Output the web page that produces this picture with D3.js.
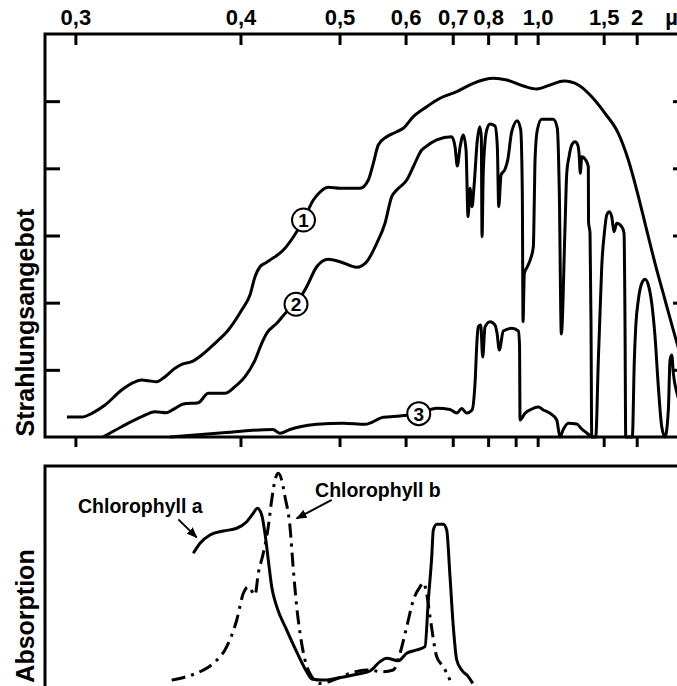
<!DOCTYPE html>
<html><head><meta charset="utf-8">
<script src="https://cdn.jsdelivr.net/npm/d3@7"></script>
<style>
body{margin:0;background:#fff}
svg{display:block}
text{font-family:"Liberation Sans",Arial,sans-serif;font-weight:bold;fill:#000}
</style></head><body>
<svg id="c" width="677" height="686"></svg>
<script>
// ---- data (wavelength in µm, relative values) ----
const tickValues = [0.3,0.4,0.5,0.6,0.7,0.8,0.9,1.0,1.5,2];
const tickLabels = ["0,3","0,4","0,5","0,6","0,7","0,8","","1,0","1,5","2"];
const yTicks = [1,2,3,4,5];

// 1: extraterrestrial radiation
const curve1 = [[0.2962,0.298],[0.3030,0.298],[0.3077,0.353],[0.3141,0.476],[0.3226,0.700],[0.3280,0.799],[0.3335,0.849],[0.3372,0.838],[0.3421,0.823],[0.3471,0.898],[0.3533,1.023],[0.3576,1.082],[0.3641,1.121],[0.3710,1.221],[0.3804,1.395],[0.3904,1.593],[0.4010,1.891],[0.4078,2.114],[0.4121,2.387],[0.4164,2.535],[0.4208,2.586],[0.4254,2.635],[0.4379,2.784],[0.4512,3.057],[0.4583,3.231],[0.4690,3.528],[0.4777,3.662],[0.4862,3.718],[0.5006,3.703],[0.5272,3.703],[0.5392,3.826],[0.5466,4.075],[0.5542,4.347],[0.5676,4.471],[0.5843,4.545],[0.5959,4.596],[0.6144,4.769],[0.6411,4.918],[0.6699,5.043],[0.7100,5.141],[0.7549,5.266],[0.8172,5.340],[0.8650,5.315],[0.9326,5.226],[0.9954,5.181],[1.0667,5.241],[1.1536,5.300],[1.2584,5.241],[1.3756,5.066],[1.5155,4.819],[1.6872,4.521],[1.8443,4.124],[2.0008,3.677],[2.1838,3.182],[2.4544,2.586],[2.8015,2.040],[3.3742,1.395],[4.152,0.849]];

// 2: at the ground
const curve2 = [[0.3131,0],[0.3226,0.153],[0.3335,0.302],[0.3411,0.377],[0.3481,0.362],[0.3533,0.427],[0.3586,0.491],[0.3686,0.511],[0.3756,0.651],[0.3879,0.651],[0.3956,0.749],[0.4037,0.898],[0.4121,1.146],[0.4179,1.395],[0.4224,1.544],[0.4316,1.693],[0.4412,1.865],[0.4505,1.976],[0.4617,2.238],[0.4728,2.535],[0.4862,2.646],[0.5006,2.610],[0.5227,2.527],[0.5368,2.610],[0.5518,2.884],[0.5648,3.182],[0.5758,3.578],[0.5843,3.677],[0.6021,3.826],[0.6144,4.024],[0.6309,4.273],[0.6375,4.313],[0.6625,4.422],[0.6975,4.471],[0.7057,4.322],[0.7115,4.035],[0.7185,4.313],[0.7272,4.496],[0.7345,4.273],[0.7400,3.280],[0.7455,3.703],[0.7512,3.429],[0.7569,3.726],[0.7666,4.422],[0.7738,4.620],[0.7786,4.471],[0.7808,2.982],[0.7848,3.975],[0.7955,4.571],[0.8062,4.660],[0.8230,4.630],[0.8309,4.322],[0.8358,3.429],[0.8440,3.901],[0.8586,3.986],[0.8688,4.124],[0.8843,4.545],[0.9070,4.709],[0.9213,4.571],[0.9282,3.628],[0.9313,1.717],[0.9370,2.437],[0.9505,2.535],[0.9663,2.660],[0.9787,2.833],[0.9835,3.528],[0.9870,4.124],[0.9984,4.571],[1.0210,4.730],[1.0860,4.730],[1.1103,4.596],[1.1229,3.628],[1.1358,1.534],[1.1604,3.131],[1.1721,3.926],[1.1883,4.173],[1.2078,4.347],[1.2326,4.396],[1.2537,4.347],[1.2641,4.224],[1.2746,3.926],[1.2862,4.173],[1.3205,4.124],[1.3438,4.024],[1.3456,3.201],[1.3595,3.033],[1.3689,1.642],[1.3756,0],[1.4148,0],[1.4416,1.146],[1.4596,1.842],[1.4782,2.535],[1.5074,3.033],[1.5354,3.305],[1.5670,3.354],[1.5973,3.280],[1.6275,3.057],[1.6644,3.182],[1.7374,3.131],[1.7732,3.033],[1.7892,1.642],[1.8006,0],[1.9155,0],[1.9533,1.146],[1.9807,1.642],[2.0335,2.040],[2.1071,2.288],[2.1837,2.348],[2.2662,2.263],[2.3579,1.991],[2.4544,1.493],[2.5591,0.749],[2.6767,0.153],[2.8015,0],[2.9388,0.402],[3.0148,1.146],[3.0948,1.221],[3.1742,0.948],[3.3742,0.651],[4.152,0.328]];

// 3: under vegetation
const curve3 = [[0.3502,0],[0.3841,0.060],[0.4281,0.112],[0.4347,0.055],[0.4444,0.112],[0.4547,0.153],[0.4728,0.189],[0.5048,0.204],[0.5344,0.189],[0.5621,0.293],[0.5901,0.313],[0.6249,0.347],[0.6625,0.427],[0.6933,0.409],[0.7100,0.357],[0.7229,0.424],[0.7364,0.357],[0.7512,0.402],[0.7598,0.799],[0.7657,1.444],[0.7696,1.642],[0.7768,1.667],[0.7829,1.191],[0.7901,1.638],[0.8062,1.717],[0.8230,1.667],[0.8298,1.548],[0.8379,1.295],[0.8523,1.578],[0.8843,1.618],[0.9112,1.578],[0.9162,1.370],[0.9184,0.253],[0.9401,0.353],[0.9787,0.427],[1.0035,0.447],[1.0295,0.402],[1.0667,0.353],[1.1066,0.253],[1.1274,0],[1.1470,0.104],[1.1833,0.204],[1.2458,0.194],[1.2863,0.119],[1.3294,0.060],[1.3756,0]];

// curve number markers (wavelength, value)
const curveMarks = [["1",0.4583,3.231],["2",0.4505,1.976],["3",0.6249,0.347]];

// absorption spectra (relative)
const chlA = [[0.3652,0.627],[0.3698,0.670],[0.3768,0.705],[0.3866,0.722],[0.3970,0.734],[0.4051,0.762],[0.4106,0.798],[0.4141,0.819],[0.4179,0.791],[0.4208,0.712],[0.4238,0.598],[0.4269,0.484],[0.4316,0.399],[0.4412,0.299],[0.4512,0.206],[0.4617,0.121],[0.4672,0.090],[0.4803,0.085],[0.4965,0.093],[0.5227,0.110],[0.5417,0.124],[0.5569,0.164],[0.5676,0.178],[0.5871,0.168],[0.6021,0.200],[0.6210,0.214],[0.6375,0.228],[0.6444,0.427],[0.6516,0.612],[0.6550,0.726],[0.6625,0.751],[0.6775,0.751],[0.6854,0.726],[0.6933,0.527],[0.7014,0.313],[0.7100,0.171],[0.7229,0.128],[0.7408,0.100],[0.7532,0.071]];
const chlB = [[0.3512,0.085],[0.3608,0.100],[0.3698,0.121],[0.3792,0.157],[0.3892,0.228],[0.3970,0.342],[0.4023,0.456],[0.4064,0.484],[0.4121,0.449],[0.4149,0.541],[0.4193,0.627],[0.4238,0.741],[0.4269,0.855],[0.4300,0.940],[0.4331,0.969],[0.4363,0.940],[0.4395,0.869],[0.4444,0.741],[0.4478,0.556],[0.4512,0.399],[0.4547,0.285],[0.4599,0.171],[0.4672,0.100],[0.4765,0.071],[0.4923,0.085],[0.5136,0.114],[0.5368,0.128],[0.5621,0.121],[0.5785,0.128],[0.5901,0.200],[0.6021,0.313],[0.6144,0.427],[0.6275,0.484],[0.6341,0.501],[0.6396,0.470],[0.6480,0.356],[0.6625,0.185],[0.6775,0.142],[0.6933,0.085]];

// annotations: [text, wavelength, value] and arrows [from λ, from A, to λ, to A]
const chlLabels = [["Chlorophyll a",0.3012,0.800],["Chlorophyll b",0.4709,0.868]];
const chlArrows = [[0.3554,0.772,0.3675,0.695],[0.4903,0.855,0.4512,0.776]];

// ---- layout ----
const svg = d3.select("#c");
const L=45, R=688, T1=34, B1=437, T2=466, B2=700;
const xu = d3.scaleLinear().domain([1/0.3, 1/2]).range([75.4, 636.7]); // reciprocal wavelength
const x = l => xu(1/l);
const y = d3.scaleLinear().domain([0,6]).range([B1,T1]);
const ya = d3.scaleLinear().domain([0,1]).range([B2,T2]);

const defs = svg.append("defs");
defs.append("clipPath").attr("id","clipTop").append("rect")
  .attr("x",L).attr("y",T1-5).attr("width",R-L).attr("height",B1-T1+8);
defs.append("marker").attr("id","arr").attr("markerUnits","userSpaceOnUse")
  .attr("viewBox","0 0 10 8").attr("refX",9).attr("refY",4)
  .attr("markerWidth",11).attr("markerHeight",9).attr("orient","auto")
  .append("path").attr("d","M0,0 L10,4 L0,8 Z").attr("fill","#000");

// top panel curves
const line = d3.line().x(d=>x(d[0])).y(d=>y(d[1])).curve(d3.curveMonotoneX);
const gTop = svg.append("g").attr("clip-path","url(#clipTop)");
[curve1,curve2,curve3].forEach(c=>{
  gTop.append("path").attr("d",line(c)).attr("fill","none")
    .attr("stroke","#000").attr("stroke-width",3).attr("stroke-linejoin","round");
});

// frames
svg.append("rect").attr("x",L).attr("y",T1).attr("width",R-L).attr("height",B1-T1)
  .attr("fill","none").attr("stroke","#000").attr("stroke-width",3);
svg.append("rect").attr("x",L).attr("y",T2).attr("width",R-L).attr("height",B2-T2)
  .attr("fill","none").attr("stroke","#000").attr("stroke-width",3);

function styleAxis(g){
  g.select(".domain").remove();
  g.selectAll(".tick line").attr("stroke","#000").attr("stroke-width",3);
  g.selectAll(".tick text").attr("font-size",22).attr("fill","#000")
    .style("font-family",'"Liberation Sans",Arial,sans-serif').style("font-weight","bold");
}
const uTicks = tickValues.map(v=>1/v);
svg.append("g").attr("transform",`translate(0,${T1})`)
  .call(d3.axisTop(xu).tickValues(uTicks).tickFormat((d,i)=>tickLabels[i])
    .tickSizeInner(-11).tickSizeOuter(0).tickPadding(9)).call(styleAxis);
svg.append("g").attr("transform",`translate(0,${B1})`)
  .call(d3.axisBottom(xu).tickValues(uTicks).tickFormat("")
    .tickSizeInner(10).tickSizeOuter(0)).call(styleAxis);
svg.append("g").attr("transform",`translate(${L},0)`)
  .call(d3.axisLeft(y).tickValues(yTicks).tickFormat("").tickSizeInner(-15).tickSizeOuter(0)).call(styleAxis);
svg.append("g").attr("transform",`translate(${R},0)`)
  .call(d3.axisRight(y).tickValues(yTicks).tickFormat("").tickSizeInner(-15).tickSizeOuter(0)).call(styleAxis);

// unit label
svg.append("text").attr("x",x(3.0)+2).attr("y",T1-9).attr("text-anchor","middle")
  .attr("font-size",22).text("µ");

// curve number circles
const cm = svg.append("g");
curveMarks.forEach(([n,l,v])=>{
  cm.append("circle").attr("cx",x(l)).attr("cy",y(v)).attr("r",11.5)
    .attr("fill","#fff").attr("stroke","#000").attr("stroke-width",2);
  cm.append("text").attr("x",x(l)).attr("y",y(v)).attr("dy","0.36em")
    .attr("text-anchor","middle").attr("font-size",19).text(n);
});

// axis titles
svg.append("text").attr("transform",`translate(33.5,${(T1+B1)/2+87}) rotate(-90)`)
  .attr("text-anchor","middle").attr("font-size",25).text("Strahlungsangebot");
svg.append("text").attr("transform",`translate(33.5,616) rotate(-90)`)
  .attr("text-anchor","middle").attr("font-size",25).text("Absorption");

// bottom panel
const lineA = d3.line().x(d=>x(d[0])).y(d=>ya(d[1])).curve(d3.curveMonotoneX);
svg.append("path").attr("d",lineA(chlA)).attr("fill","none").attr("stroke","#000")
  .attr("stroke-width",3).attr("stroke-linejoin","round");
svg.append("path").attr("d",lineA(chlB)).attr("fill","none").attr("stroke","#000")
  .attr("stroke-width",3).attr("stroke-dasharray","14,6,3,6");

chlLabels.forEach(([t,l,a])=>{
  svg.append("text").attr("x",x(l)).attr("y",ya(a)).attr("font-size",19.5).text(t);
});
chlArrows.forEach(([l0,a0,l1,a1])=>{
  svg.append("line").attr("x1",x(l0)).attr("y1",ya(a0)).attr("x2",x(l1)).attr("y2",ya(a1))
    .attr("stroke","#000").attr("stroke-width",2).attr("marker-end","url(#arr)");
});
</script>
</body></html>
